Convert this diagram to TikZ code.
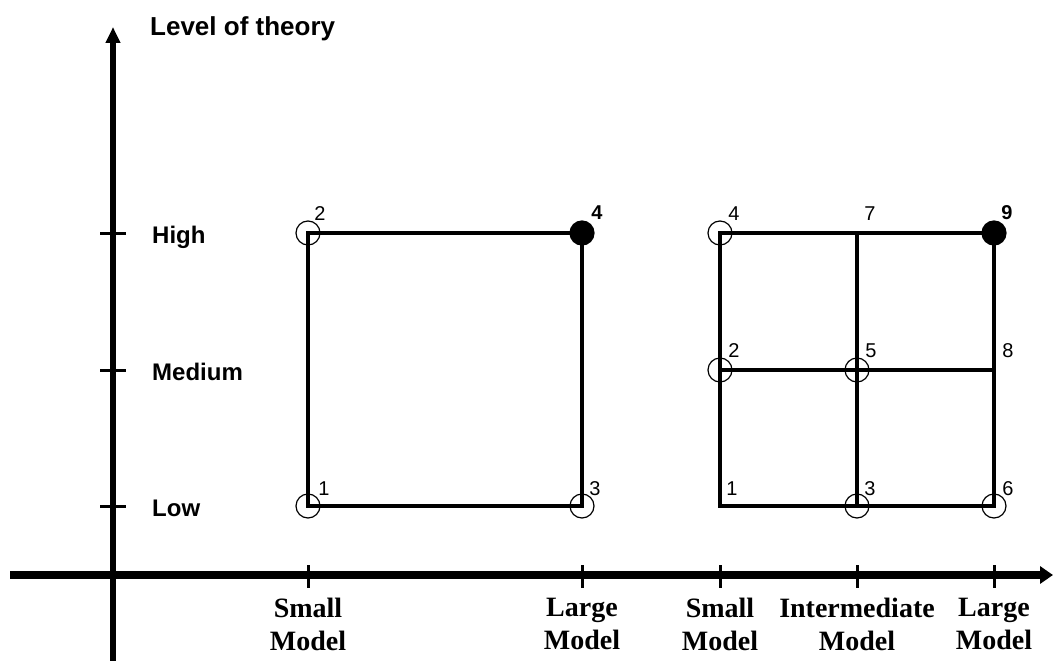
\documentclass[tikz,border=0pt]{standalone}
\usepackage{fontspec}
\setmainfont{Liberation Serif}
\setsansfont{Liberation Sans}
\usetikzlibrary{arrows.meta}
\begin{document}
\begin{tikzpicture}[x=1pt,y=-1pt,
  axisy/.style={line width=5.5pt,-{Triangle[length=16pt,width=14pt]}},
  axisx/.style={line width=7.5pt,-{Triangle[length=13pt,width=17pt]}},
  tickmark/.style={line width=3pt},
  edge/.style={line width=3.4pt},
  opencirc/.style={circle,draw,line width=1.2pt,minimum size=24pt,inner sep=0pt},
  fullcirc/.style={circle,fill=black,draw,line width=1.2pt,minimum size=24pt,inner sep=0pt},
  levellab/.style={font=\sffamily\bfseries\fontsize{24}{28}\selectfont,anchor=base west,inner sep=0pt},
  modellab/.style={font=\rmfamily\bfseries\fontsize{28}{33}\selectfont,align=center,anchor=north,inner sep=0pt},
  numlab/.style={font=\sffamily\fontsize{20}{22}\selectfont,inner sep=0pt},
  boldnum/.style={font=\sffamily\bfseries\fontsize{20}{22}\selectfont,inner sep=0pt}]
\useasboundingbox (0,0) rectangle (1055,661);
% axes
\coordinate (yb) at (113,661);
\coordinate (yt) at (113,27);
\coordinate (xl) at (10,575);
\coordinate (xr) at (1053,575);
\draw[axisy] (yb) -- (yt);
\draw[axisx] (xl) -- (xr);
% y ticks
\foreach \n/\y in {h/233,m/370,l/506}{
  \coordinate (ty\n a) at (100,\y);
  \coordinate (ty\n b) at (126,\y);
  \draw[tickmark] (ty\n a) -- (ty\n b);
}
% x ticks
\foreach \n/\x in {a/308,b/582,c/720,d/857,e/994}{
  \coordinate (tx\n a) at (\x,565);
  \coordinate (tx\n b) at (\x,588);
  \draw[tickmark] (tx\n a) -- (tx\n b);
}
% labels
\node[levellab,font=\sffamily\bfseries\fontsize{26}{30}\selectfont] (lot) at (150,36) {Level of theory};
\node[levellab] (high) at (152,243) {High};
\node[levellab] (med) at (152,380) {Medium};
\node[levellab] (low) at (152,516) {Low};
\node[modellab] (m1) at (308,598) {Small\\Model};
\node[modellab] (m2) at (582,598) {Large\\Model};
\node[modellab] (m3) at (720,598) {Small\\Model};
\node[modellab] (m4) at (857,598) {Intermediate\\Model};
\node[modellab] (m5) at (994,598) {Large\\Model};
% left box
\node[opencirc] (L1) at (308,506) {};
\node[opencirc] (L2) at (308,233) {};
\node[opencirc] (L3) at (582,506) {};
\node[fullcirc] (L4) at (582,233) {};
\draw[edge] (L1.center) -- (L2.center) -- (L4.center) -- (L3.center) -- cycle;
\node[numlab] (n1) at (324,489) {1};
\node[numlab] (n2) at (320,214) {2};
\node[numlab] (n3) at (595,489) {3};
\node[boldnum] (n4) at (597,213) {4};
% right grid
\coordinate (R1) at (720,506);
\node[opencirc] (R2) at (720,370) {};
\node[opencirc] (R3) at (857,506) {};
\node[opencirc] (R4) at (720,233) {};
\node[opencirc] (R5) at (857,370) {};
\node[opencirc] (R6) at (994,506) {};
\coordinate (R7) at (857,233);
\coordinate (R8) at (994,370);
\node[fullcirc] (R9) at (994,233) {};
\draw[edge] (R1) -- (R2.center) -- (R4.center) -- (R7) -- (R9.center) -- (R8) -- (R6.center) -- (R3.center) -- cycle;
\draw[edge] (R7) -- (R5.center) -- (R3.center);
\draw[edge] (R2.center) -- (R5.center) -- (R8);
\node[numlab] (r1) at (732,489) {1};
\node[numlab] (r2) at (734,351) {2};
\node[numlab] (r3) at (870,489) {3};
\node[numlab] (r4) at (734,214) {4};
\node[numlab] (r5) at (871,351) {5};
\node[numlab] (r6) at (1008,489) {6};
\node[numlab] (r7) at (870,214) {7};
\node[numlab] (r8) at (1008,351) {8};
\node[boldnum] (r9) at (1007,213) {9};
\end{tikzpicture}
\end{document}
